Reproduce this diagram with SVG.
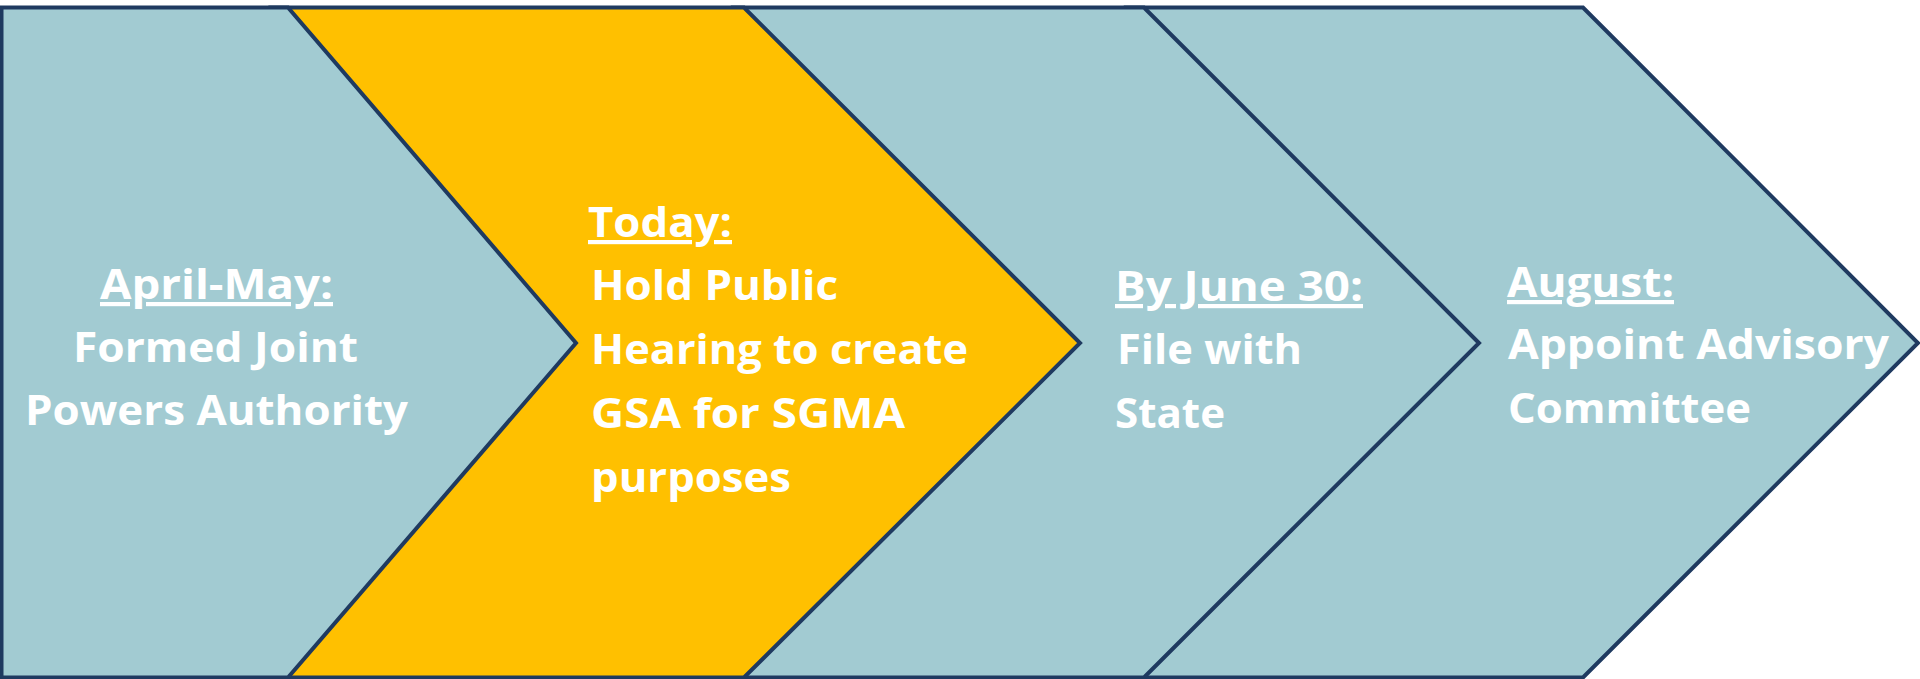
<svg xmlns="http://www.w3.org/2000/svg" width="1920" height="679" viewBox="0 0 1920 679">
<style>
.sh{stroke:#1F3A60;stroke-width:4;stroke-linejoin:miter}
.teal{fill:#A2CBD2}
.gold{fill:#FFC000}
.t{font-family:"Open Sans",Lato,"Liberation Sans",sans-serif;font-weight:700;font-size:42px;fill:#FFFFFF}
.u{text-decoration:underline}
</style>
<rect width="1920" height="679" fill="#FFFFFF"/>
<g id="step4">
<path class="sh teal" d="M1128,7.5 L1583,7.5 L1918,343 L1583,677.5 L1128,677.5 L1428,343 Z"/>
<text class="t u" x="1507" y="297" textLength="167" lengthAdjust="spacingAndGlyphs">August:</text>
<text class="t" x="1508" y="359" textLength="381" lengthAdjust="spacingAndGlyphs">Appoint Advisory</text>
<text class="t" x="1508" y="423" textLength="243" lengthAdjust="spacingAndGlyphs">Committee</text>
</g>
<g id="step3">
<path class="sh teal" d="M735,7.5 L1144,7.5 L1479,343 L1144,677.5 L735,677.5 L1035,343 Z"/>
<text class="t u" x="1115" y="301" textLength="248" lengthAdjust="spacingAndGlyphs">By June 30:</text>
<text class="t" x="1117" y="364" textLength="185" lengthAdjust="spacingAndGlyphs">File with</text>
<text class="t" x="1115" y="428" textLength="110" lengthAdjust="spacingAndGlyphs">State</text>
</g>
<g id="step2">
<path class="sh gold" d="M272,7.5 L744,7.5 L1080,343 L744,677.5 L272,677.5 L500,343 Z"/>
<text class="t u" x="588" y="237" textLength="144" lengthAdjust="spacingAndGlyphs">Today:</text>
<text class="t" x="591" y="300" textLength="247" lengthAdjust="spacingAndGlyphs">Hold Public</text>
<text class="t" x="591" y="364" textLength="377" lengthAdjust="spacingAndGlyphs">Hearing to create</text>
<text class="t" x="591" y="428" textLength="314" lengthAdjust="spacingAndGlyphs">GSA for SGMA</text>
<text class="t" x="591" y="492" textLength="200" lengthAdjust="spacingAndGlyphs">purposes</text>
</g>
<g id="step1">
<path class="sh teal" d="M1.5,7.5 L288,7.5 L576,343 L288,677.5 L1.5,677.5 Z"/>
<text class="t u" x="100" y="299" textLength="233" lengthAdjust="spacingAndGlyphs">April-May:</text>
<text class="t" x="73" y="362" textLength="285" lengthAdjust="spacingAndGlyphs">Formed Joint</text>
<text class="t" x="25" y="425" textLength="383" lengthAdjust="spacingAndGlyphs">Powers Authority</text>
</g>
<g id="connectors"/>
</svg>
